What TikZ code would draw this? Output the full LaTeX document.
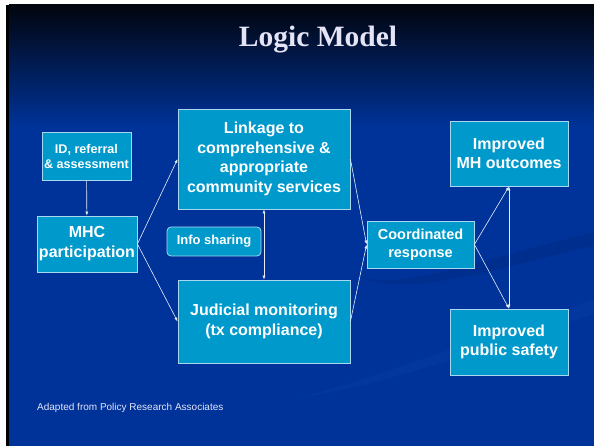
\documentclass[tikz,border=0pt]{standalone}
\usepackage{fontspec}
\setmainfont{Liberation Serif}
\setsansfont{Liberation Sans}
\usepackage{tikz}
\usetikzlibrary{positioning, arrows.meta}

\definecolor{slidetop}{HTML}{01050E}
\definecolor{slideblue}{HTML}{00339A}
\definecolor{swooshdark}{HTML}{002A85}
\definecolor{swooshlight}{HTML}{0A3FA8}
\definecolor{boxfill}{HTML}{0099CC}
\definecolor{boxline}{HTML}{A8D8F0}
\definecolor{titletext}{HTML}{E4E4F6}
\definecolor{arrowline}{HTML}{E8EEF8}

\tikzset{
  modelbox/.style={draw=boxline, line width=0.8pt, fill=boxfill, text=white,
    align=center, inner sep=1pt},
  flow/.style={draw=arrowline, line width=0.6pt, -{Latex[length=4pt,width=3pt]}},
  twoway/.style={draw=arrowline, line width=0.6pt,
    {Latex[length=4pt,width=3pt]}-{Latex[length=4pt,width=3pt]}},
}

\begin{document}
\begin{tikzpicture}[x=1pt, y=-1pt]
\useasboundingbox (0,0) rectangle (594,446);
% slide background
\fill[white] (0,0) rectangle (594,446);
\fill[black] (6,5) rectangle (594,446);
\fill[slideblue] (9,5) rectangle (594,446);
\shade[top color=slidetop, bottom color=slideblue] (9,5) rectangle (594,128);
\fill[swooshdark, opacity=0.5] (345,268) .. controls (380,300) and (470,262) .. (594,232)
  -- (594,246) .. controls (480,272) and (390,305) .. (345,268) -- cycle;
\fill[swooshlight, opacity=0.35] (300,398) .. controls (400,370) and (500,330) .. (594,300)
  -- (594,314) .. controls (500,342) and (400,382) .. (300,398) -- cycle;

% title
\node (title) at (318,40) {\fontsize{29.5}{34}\selectfont\bfseries\color{titletext}Logic Model};

% boxes
\node[modelbox, minimum width=89pt, minimum height=48pt,
  font=\sffamily\bfseries\fontsize{12.6}{15}\selectfont] (ID) at (86.5,156)
  {ID, referral\\\& assessment};
\node[modelbox, minimum width=100pt, minimum height=56pt,
  font=\sffamily\bfseries\fontsize{16}{20}\selectfont] (MHC) at (87,244)
  {MHC\\participation};
\node[modelbox, minimum width=172pt, minimum height=100pt,
  font=\sffamily\bfseries\fontsize{16}{19.5}\selectfont] (Link) at (264,159)
  {Linkage to\\comprehensive \&\\appropriate\\community services};
\node[modelbox, rounded corners=4pt, minimum width=94pt, minimum height=29pt,
  font=\sffamily\bfseries\fontsize{13}{15}\selectfont] (Info) at (214,241.5)
  {Info sharing};
\node[modelbox, minimum width=172pt, minimum height=83pt,
  font=\sffamily\bfseries\fontsize{16}{20}\selectfont] (Jud) at (264,321.5)
  {Judicial monitoring\\(tx compliance)};
\node[modelbox, minimum width=107pt, minimum height=47pt,
  font=\sffamily\bfseries\fontsize{14.5}{18}\selectfont] (Coord) at (420.5,244.5)
  {Coordinated\\response};
\node[modelbox, minimum width=118pt, minimum height=65pt,
  font=\sffamily\bfseries\fontsize{16}{19.5}\selectfont] (MH) at (509,153.5)
  {Improved\\MH outcomes};
\node[modelbox, minimum width=118pt, minimum height=66pt,
  font=\sffamily\bfseries\fontsize{16}{19.5}\selectfont] (Safe) at (509,342)
  {Improved\\public safety};

% source note
\node[anchor=west, inner sep=0pt, text=titletext,
  font=\sffamily\fontsize{10}{12}\selectfont] (note) at (37,408)
  {Adapted from Policy Research Associates};

% connectors
\draw[flow] (ID) -- (MHC);
\draw[flow] (MHC.east) -- (Link.west);
\draw[flow] (MHC.east) -- (Jud.west);
\draw[twoway] (Link) -- (Jud);
\draw[flow] (Link.east) -- (Coord.west);
\draw[flow] (Jud.east) -- (Coord.west);
\draw[flow] (Coord.east) -- (MH.south);
\draw[flow] (Coord.east) -- (Safe.north);
\draw[twoway] (MH) -- (Safe);
\end{tikzpicture}
\end{document}
